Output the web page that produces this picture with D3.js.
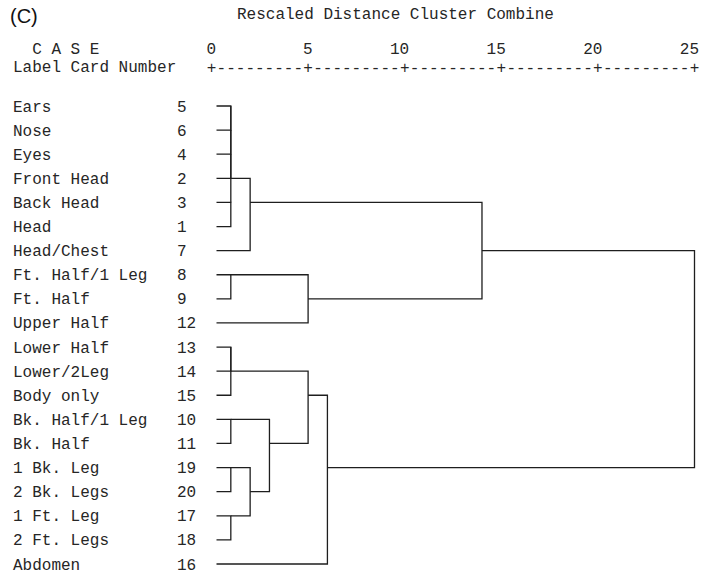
<!DOCTYPE html>
<html>
<head>
<meta charset="utf-8">
<script src="https://cdn.jsdelivr.net/npm/d3@7"></script>
<style>
  html, body { margin: 0; padding: 0; background: #fff; }
  svg { display: block; }
  .mono { font-family: "Liberation Mono", "Courier New", monospace; font-size: 16px; fill: #262626; white-space: pre; }
</style>
</head>
<body>
<svg id="chart" width="703" height="574"></svg>
<script>
// Cases in display order (top to bottom)
const caseLabels = [
  "Ears", "Nose", "Eyes", "Front Head", "Back Head", "Head", "Head/Chest",
  "Ft. Half/1 Leg", "Ft. Half", "Upper Half", "Lower Half", "Lower/2Leg",
  "Body only", "Bk. Half/1 Leg", "Bk. Half", "1 Bk. Leg", "2 Bk. Legs",
  "1 Ft. Leg", "2 Ft. Legs", "Abdomen"
];
const caseNumbers = [5, 6, 4, 2, 3, 1, 7, 8, 9, 12, 13, 14, 15, 10, 11, 19, 20, 17, 18, 16];

// Agglomeration schedule: negative = case (1-based display position),
// positive = earlier stage (1-based); heights are rescaled distances.
const mergeA = [-1, 1, 2, -5, 3, 5, -8, 7, 6, -11, 10, -14, -16, -18, 13, 12, 11, 17, 9];
const mergeB = [-2, -3, -4, -6, 4, -7, -9, -10, 8, -12, -13, -15, -17, -19, 14, 15, 16, -20, 18];
const mergeHeight = [1, 1, 1, 1, 1, 2, 1, 5, 14, 1, 1, 1, 1, 1, 2, 3, 5, 6, 25];

const distTicks = [0, 5, 10, 15, 20, 25];

const svg = d3.select("#chart");

const x = d3.scaleLinear().domain([0, 25]).range([211.5, 694.5]);
const y = d3.scalePoint().domain(d3.range(caseLabels.length)).range([106, 564]);
const leafStart = x(0) + 5;

// Panel letter and title
svg.append("text")
  .attr("x", 10).attr("y", 23)
  .attr("font-family", "'Liberation Sans', Arial, sans-serif")
  .attr("font-size", 20).attr("fill", "#111")
  .text("(C)");

svg.append("text").attr("class", "mono")
  .attr("x", 237).attr("y", 19)
  .text("Rescaled Distance Cluster Combine");

// Column headers
svg.append("text").attr("class", "mono")
  .attr("x", 13).attr("y", 54)
  .text("  C A S E");
svg.append("text").attr("class", "mono")
  .attr("x", 13).attr("y", 72)
  .text("Label Card Number");

// Distance scale: tick numbers, "+" marks and dashed rule
svg.selectAll("text.tickNum").data(distTicks).enter().append("text")
  .attr("class", "mono tickNum")
  .attr("x", d => x(d) + 4.5).attr("y", 54)
  .attr("text-anchor", "end")
  .text(d => d);

svg.selectAll("text.tickPlus").data(distTicks).enter().append("text")
  .attr("class", "mono tickPlus")
  .attr("x", d => x(d)).attr("y", 73)
  .attr("text-anchor", "middle")
  .text("+");

svg.selectAll("text.tickDash").data(distTicks.slice(0, -1)).enter().append("text")
  .attr("class", "mono tickDash")
  .attr("x", (d, i) => (x(d) + x(distTicks[i + 1])) / 2).attr("y", 73)
  .attr("text-anchor", "middle")
  .text("---------");

// Case labels and numbers
svg.selectAll("text.caseLabel").data(caseLabels).enter().append("text")
  .attr("class", "mono caseLabel")
  .attr("x", 13).attr("y", (d, i) => y(i) + 5.5)
  .text(d => d);

svg.selectAll("text.caseNum").data(caseNumbers).enter().append("text")
  .attr("class", "mono caseNum")
  .attr("x", 177).attr("y", (d, i) => y(i) + 5.5)
  .text(d => d);

// Dendrogram brackets: each stage joins two children at its height;
// the joined cluster continues from the middle row (rounded up the page)
const stageRow = [];
const rowOf = n => n < 0 ? (-n - 1) : stageRow[n - 1];
const xOf = n => n < 0 ? leafStart : x(mergeHeight[n - 1]);

const brackets = mergeA.map((a, i) => {
  const b = mergeB[i];
  const ra = rowOf(a), rb = rowOf(b);
  stageRow[i] = Math.floor((ra + rb) / 2);
  const xm = x(mergeHeight[i]);
  return `M${xOf(a)},${y(ra)}H${xm}V${y(rb)}H${xOf(b)}`;
});

svg.append("g")
  .selectAll("path").data(brackets).enter().append("path")
  .attr("d", d => d)
  .attr("fill", "none")
  .attr("stroke", "#1e1e1e")
  .attr("stroke-width", 1.3);
</script>
</body>
</html>
